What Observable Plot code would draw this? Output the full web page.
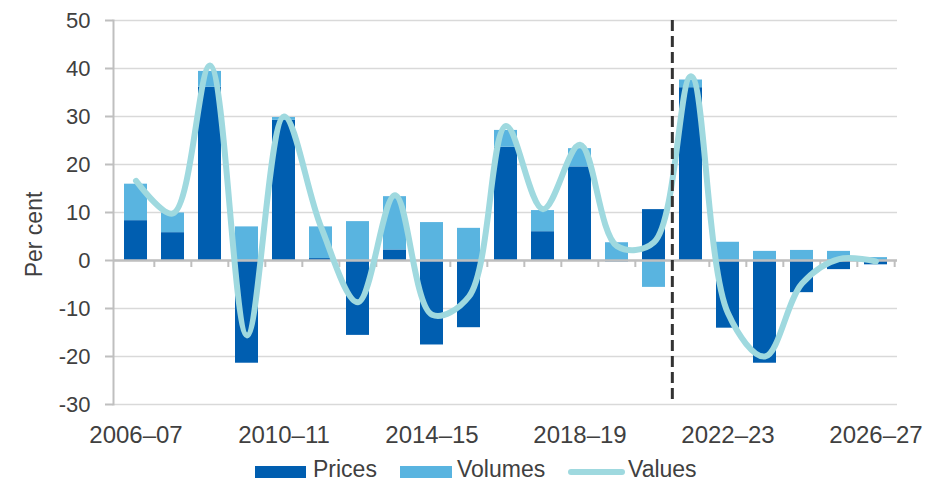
<!DOCTYPE html>
<html>
<head>
<meta charset="utf-8">
<script src="https://cdn.jsdelivr.net/npm/d3@7"></script>
<script src="https://cdn.jsdelivr.net/npm/@observablehq/plot@0.6"></script>
<style>
  html, body { margin: 0; padding: 0; background: #ffffff; }
  #wrap { position: relative; width: 942px; height: 481px; font-family: "Liberation Sans", Arial, sans-serif; color: #404040; }
  #wrap svg { position: absolute; left: 0; top: 0; }
  .sw { position: absolute; }
  .lt { position: absolute; font-size: 23px; line-height: 23px; white-space: nowrap; color: #404040; }
</style>
</head>
<body>
<div id="wrap"></div>
<script>
// ---- data ----
const categories = ["2006–07","2007–08","2008–09","2009–10","2010–11","2011–12","2012–13","2013–14","2014–15","2015–16","2016–17","2017–18","2018–19","2019–20","2020–21","2021–22","2022–23","2023–24","2024–25","2025–26","2026–27"];
const prices  = [8.3, 5.8, 36.1, -21.4, 29.2, 0.4, -15.6, 2.2, -17.6, -14.0, 23.6, 6.0, 19.5, -0.3, 10.6, 36.0, -14.1, -21.4, -6.7, -1.9, -0.9];
const volumes = [7.6, 4.1, 3.3, 7.0, 0.6, 6.6, 8.1, 11.1, 7.9, 6.7, 3.5, 4.4, 3.8, 3.7, -5.6, 1.6, 3.8, 1.9, 2.1, 1.9, 0.6];
const values  = [16.6, 9.8, 40.6, -15.6, 30.0, 7.0, -8.7, 13.6, -11.3, -7.5, 28.0, 10.7, 24.1, 3.0, 3.8, 38.4, -11.0, -20.0, -4.8, 0.3, -0.2];
const yTicks = [-30, -20, -10, 0, 10, 20, 30, 40, 50];
const xTickLabels = ["2006–07", "2010–11", "2014–15", "2018–19", "2022–23", "2026–27"];
const seriesNames = ["Prices", "Volumes", "Values"];
const forecastStart = "2021–22";

// ---- styles ----
const priceColor = "#005eb0";
const volumeColor = "#59b4e0";
const valueColor = "#9fd9df";
const gridColor = "#d9d9d9";
const axisColor = "#bfbfbf";
const textColor = "#404040";

const W = 942, H = 452;
const mL = 113, mR = 45, mT = 20, mB = 48;
const halfStep = (W - mL - mR) / categories.length / 2;

const barData = categories.flatMap((c, i) => [
  {cat: c, series: seriesNames[0], v: prices[i]},
  {cat: c, series: seriesNames[1], v: volumes[i]}
]);
const lineData = categories.map((c, i) => ({cat: c, v: values[i]}));

const chart = Plot.plot({
  width: W, height: H,
  marginLeft: mL, marginRight: mR, marginTop: mT, marginBottom: mB,
  style: {fontFamily: "'Liberation Sans', Arial, sans-serif", color: textColor, background: "transparent", overflow: "visible"},
  x: {domain: categories, paddingInner: 0.385, paddingOuter: 0.1925, label: null},
  y: {domain: [-30, 50], label: null},
  color: {domain: seriesNames.slice(0, 2), range: [priceColor, volumeColor]},
  marks: [
    Plot.gridY(yTicks, {stroke: gridColor, strokeOpacity: 1, strokeWidth: 1.3}),
    Plot.barY(barData, {x: "cat", y: "v", fill: "series"}),
    Plot.ruleY([0], {stroke: axisColor, strokeWidth: 2.5}),
    Plot.ruleX(categories.slice(1), {dx: -halfStep, y1: 0, y2: 0, insetBottom: -7, stroke: axisColor, strokeWidth: 2}),
    Plot.ruleX(categories.slice(-1), {dx: halfStep, y1: 0, y2: 0, insetBottom: -7, stroke: axisColor, strokeWidth: 2}),
    Plot.frame({anchor: "left", stroke: axisColor, strokeWidth: 2}),
    Plot.axisY(yTicks, {tickSize: 8, tickPadding: 15, stroke: axisColor, strokeWidth: 2, color: textColor, fill: textColor, fontSize: 22, label: null, tickFormat: d => String(d)}),
    Plot.axisX(xTickLabels, {tickSize: 0, tickPadding: 21, fontSize: 24, color: textColor, label: null}),
    Plot.line(lineData, {x: "cat", y: "v", curve: "catmull-rom", stroke: valueColor, strokeWidth: 6, strokeLinecap: "round", strokeLinejoin: "round"}),
    Plot.ruleX([forecastStart], {dx: -halfStep, stroke: "#333333", strokeWidth: 3, strokeDasharray: "11,5"}),
    Plot.text(["Per cent"], {frameAnchor: "left", rotate: -90, dx: -79, dy: 22, fontSize: 23, fill: textColor, textAnchor: "middle"})
  ]
});

const wrap = document.getElementById("wrap");
wrap.appendChild(chart);

// ---- legend (HTML, below the SVG) ----
function addSwatch(left, top, w, h, color, radius) {
  const d = document.createElement("div");
  d.className = "sw";
  Object.assign(d.style, {left: left + "px", top: top + "px", width: w + "px", height: h + "px", background: color, borderRadius: (radius || 0) + "px"});
  wrap.appendChild(d);
}
function addText(left, top, txt) {
  const s = document.createElement("span");
  s.className = "lt";
  s.style.left = left + "px";
  s.style.top = top + "px";
  s.textContent = txt;
  wrap.appendChild(s);
}
addSwatch(255, 466, 51, 12, priceColor);
addText(313, 457.5, seriesNames[0]);
addSwatch(400, 466, 52, 12, volumeColor);
addText(457, 457.5, seriesNames[1]);
addSwatch(568, 469, 57, 6, valueColor, 3);
addText(628, 457.5, seriesNames[2]);
</script>
</body>
</html>
